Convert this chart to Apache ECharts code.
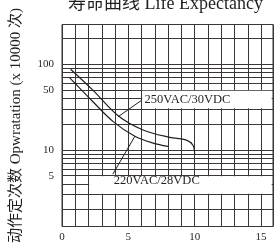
<!DOCTYPE html>
<html>
<head>
<meta charset="utf-8">
<script src="https://cdn.jsdelivr.net/npm/echarts@6/dist/echarts.min.js"></script>
<style>
html,body{margin:0;padding:0;background:#fff;}
#c{width:279px;height:246px;}
</style>
</head>
<body>
<div id="c"></div>
<script>
// ---- data ----
const titleText = '寿命曲线 Life Expectancy';
const yName = '动作定次数 Opwratation (x 10000 次)';
const xLabels = [0, 5, 10, 15];
const yLabels = [5, 10, 50, 100];
const yGrid = [2, 3, 4, 5, 6, 7, 8, 9, 10, 20, 30, 40, 50, 60, 70, 80, 90, 100, 200];
const xRange = [0, 15.9];
const yRange = [1.27, 292];

const curve250X = [0.65, 2.36, 4.23, 6.11, 8.12, 9.38, 9.87, 10.0];
const curve250Y = [87.6, 49.3, 25.1, 17.1, 14.0, 13.0, 11.3, 8.8];
const curve220X = [0.55, 2.35, 3.86, 5.49, 6.86, 7.99];
const curve220Y = [70.3, 36.3, 21.4, 14.4, 12.0, 11.0];

const leader250X = [4.23, 5.99];
const leader250Y = [24.4, 37.9];
const leader220X = [5.49, 3.83];
const leader220Y = [14.4, 5.2];
const label250 = '250VAC/30VDC';
const label220 = '220VAC/28VDC';

// label background boxes [x0, y0, x1, y1]
const box250 = [6.05, 49, 15.8, 30.6];
const box220 = [2.05, 4.9, 15.8, 3.06];

const zip = (xs, ys) => xs.map((x, i) => [x, ys[i]]);
const serif = '"Liberation Serif", "DejaVu Serif", "Noto Sans CJK SC", serif';
const ink = '#231f20';
const gridCol = '#3a3536';

const chart = echarts.init(document.getElementById('c'), null, {renderer: 'canvas'});
chart.setOption({
  animation: false,
  backgroundColor: '#fff',
  title: {
    text: titleText,
    left: 68, top: -5, padding: 0,
    textStyle: {fontFamily: serif, fontSize: 18, fontWeight: 'normal', color: ink}
  },
  grid: {left: 62, right: 6, top: 24.5, bottom: 16, show: true, borderColor: gridCol, borderWidth: 1},
  xAxis: {
    type: 'value', min: xRange[0], max: xRange[1], interval: 1,
    axisLine: {show: false}, axisTick: {show: false},
    axisLabel: {customValues: xLabels, fontFamily: serif, fontSize: 11, color: ink, margin: 5},
    splitLine: {show: true, lineStyle: {color: gridCol, width: 1}}
  },
  yAxis: {
    type: 'log', logBase: 10, min: yRange[0], max: yRange[1],
    name: yName, nameLocation: 'middle', nameGap: 38, nameRotate: 90,
    nameTextStyle: {fontFamily: serif, fontSize: 15, color: ink},
    axisLine: {show: false},
    axisTick: {show: false, customValues: yGrid},
    axisLabel: {customValues: yLabels, fontFamily: serif, fontSize: 11, color: ink, margin: 8},
    splitLine: {show: true, lineStyle: {color: gridCol, width: 1}}
  },
  series: [
    {
      type: 'line', z: 1, data: [], symbol: 'none',
      markArea: {
        silent: true,
        itemStyle: {color: '#fff', opacity: 1},
        label: {show: false},
        data: [
          [{coord: [box250[0], box250[1]]}, {coord: [box250[2], box250[3]]}],
          [{coord: [box220[0], box220[1]]}, {coord: [box220[2], box220[3]]}]
        ]
      }
    },
    {
      type: 'line', z: 3, data: zip(curve250X, curve250Y), smooth: 0.35,
      symbol: 'none', lineStyle: {color: ink, width: 1.2}
    },
    {
      type: 'line', z: 3, data: zip(curve220X, curve220Y), smooth: 0.35,
      symbol: 'none', lineStyle: {color: ink, width: 1.2}
    },
    {
      type: 'line', z: 3, data: zip(leader250X, leader250Y),
      symbol: 'none', lineStyle: {color: ink, width: 1},
      endLabel: {show: true, formatter: label250, fontFamily: serif, fontSize: 12.5, color: ink, distance: 3, offset: [0, -1]}
    },
    {
      type: 'line', z: 3, data: zip(leader220X, leader220Y),
      symbol: 'none', lineStyle: {color: ink, width: 1},
      endLabel: {show: true, formatter: label220, fontFamily: serif, fontSize: 12.5, color: ink, distance: 1, offset: [0, 7]}
    }
  ]
});
</script>
</body>
</html>
